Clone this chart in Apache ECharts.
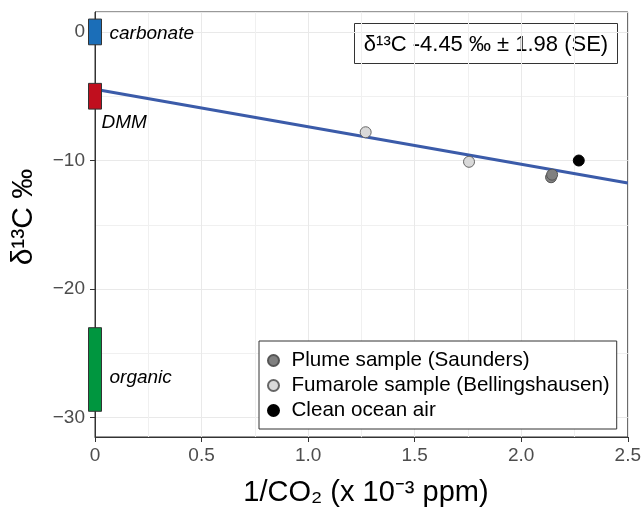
<!DOCTYPE html>
<html>
<head>
<meta charset="utf-8">
<script src="https://cdn.jsdelivr.net/npm/echarts@6/dist/echarts.min.js"></script>
<style>
html, body { margin: 0; padding: 0; background: #fff; }
#chart { width: 644px; height: 509px; }
</style>
</head>
<body>
<div id="chart"></div>
<script>
// end-member source ranges (drawn as boxes at x = 0)
var sourceNames = ['carbonate', 'DMM', 'organic'];
var sourceX = [0, 0, 0];
var sourceLow = [-1, -6, -29.5];
var sourceHigh = [1, -4, -23];
var sourceColors = ['#1B6EB8', '#C00F1E', '#00963F'];

// samples
var plumeX = [2.14, 2.145];
var plumeY = [-11.3, -11.1];
var fumaroleX = [1.27, 1.755];
var fumaroleY = [-7.8, -10.1];
var oceanX = [2.27];
var oceanY = [-10.0];

// fitted line end points
var fitX = [0, 2.5];
var fitY = [-4.45, -11.75];

var xTickLabels = ['0', '0.5', '1.0', '1.5', '2.0', '2.5'];
var yTickValues = [0, -10, -20, -30];
var yTickLabels = ['0', '\u221210', '\u221220', '\u221230'];

var FONT = 'Liberation Sans, Arial, sans-serif';

function pairs(xs, ys) {
    return xs.map(function (x, i) { return [x, ys[i]]; });
}

var sourceData = sourceNames.map(function (n, i) {
    return [sourceX[i], sourceLow[i], sourceHigh[i], i];
});

// label placement for the source boxes (pixels)
var labelShift = {
    carbonate: { dx: 8, dy: 2, below: false },
    DMM: { dx: 13, dy: 14, below: true },
    organic: { dx: 8, dy: 8, below: false }
};

var myChart = echarts.init(document.getElementById('chart'));

var option = {
    animation: false,
    textStyle: { fontFamily: FONT },
    grid: {
        left: 95, right: 13, top: 12, bottom: 72,
        show: true, borderColor: '#333', borderWidth: 1
    },
    xAxis: {
        type: 'value', min: 0, max: 2.5, interval: 0.5,
        axisLine: { show: true, onZero: false, lineStyle: { color: '#333', width: 1 } },
        axisTick: { show: true, length: 5, lineStyle: { color: '#333' } },
        axisLabel: {
            fontSize: 19, color: '#4D4D4D', margin: 9, fontFamily: FONT,
            formatter: function (v) { return xTickLabels[Math.round(v / 0.5)]; }
        },
        splitLine: { lineStyle: { color: '#E9E9E9', width: 1 } },
        minorTick: { show: false, splitNumber: 2 },
        minorSplitLine: { show: true, lineStyle: { color: '#F0F0F0', width: 1 } }
    },
    yAxis: {
        type: 'value', min: -31.5, max: 1.55, splitNumber: 3,
        axisLine: { show: true, onZero: false, lineStyle: { color: '#333', width: 1 } },
        axisTick: { show: true, length: 5, lineStyle: { color: '#333' } },
        axisLabel: {
            fontSize: 19, color: '#4D4D4D', margin: 10, fontFamily: FONT,
            showMinLabel: false, showMaxLabel: false,
            formatter: function (v) {
                var k = yTickValues.indexOf(v);
                return k < 0 ? '' : yTickLabels[k];
            }
        },
        splitLine: { lineStyle: { color: '#E9E9E9', width: 1 } },
        minorTick: { show: false, splitNumber: 2 },
        minorSplitLine: { show: true, lineStyle: { color: '#F0F0F0', width: 1 } }
    },
    legend: {
        data: ['Plume sample (Saunders)', 'Fumarole sample (Bellingshausen)', 'Clean ocean air'],
        orient: 'vertical',
        left: 259, top: 341,
        padding: [9, 7, 8, 8],
        itemGap: 4,
        itemWidth: 26, itemHeight: 11,
        icon: 'circle',
        backgroundColor: '#fff',
        borderColor: '#333', borderWidth: 1, borderRadius: 0,
        selectedMode: false,
        textStyle: { fontSize: 20.6, color: '#000', fontFamily: FONT, lineHeight: 20 }
    },
    graphic: [
        {
            type: 'group', left: 354, top: 23, z: 10,
            children: [
                { type: 'rect', shape: { x: 0, y: 0, width: 263, height: 40 },
                  style: { fill: '#fff', stroke: '#333', lineWidth: 1 } },
                { type: 'text', x: 131.5, y: 21,
                  style: { text: '\u03b4\u00b9\u00b3C -4.45 \u2030 \u00b1 1.98 (SE)', font: '22px ' + FONT,
                           fill: '#000', align: 'center', verticalAlign: 'middle' } }
            ]
        },
        {
            type: 'text', x: 24, y: 217, rotation: Math.PI / 2,
            style: { text: '\u03b4\u00b9\u00b3C \u2030', font: '30px ' + FONT, fill: '#000',
                     align: 'center', verticalAlign: 'middle' }
        },
        {
            type: 'text', x: 366, y: 493,
            style: { text: '1/CO\u2082 (x 10\u207b\u00b3 ppm)', font: '29px ' + FONT, fill: '#000',
                     align: 'center', verticalAlign: 'middle' }
        }
    ],
    series: [
        {
            name: 'sources',
            type: 'custom',
            clip: false,
            z: 5,
            encode: { x: 0, y: [1, 2] },
            data: sourceData,
            renderItem: function (params, api) {
                var i = api.value(3);
                var name = sourceNames[i];
                var top = api.coord([api.value(0), api.value(2)]);
                var bot = api.coord([api.value(0), api.value(1)]);
                var w = 13;
                var s = labelShift[name];
                var ly = s.below ? bot[1] + s.dy : (top[1] + bot[1]) / 2 + s.dy;
                var lx = s.below ? top[0] - w / 2 + s.dx : top[0] + w / 2 + s.dx;
                return {
                    type: 'group',
                    children: [
                        { type: 'rect',
                          shape: { x: top[0] - w / 2, y: top[1], width: w, height: bot[1] - top[1] },
                          style: { fill: sourceColors[i], stroke: '#333', lineWidth: 1 } },
                        { type: 'text', x: lx, y: ly,
                          style: { text: name, font: 'italic 19px ' + FONT, fill: '#000',
                                   align: 'left', verticalAlign: 'middle' } }
                    ]
                };
            }
        },
        {
            name: 'fit',
            type: 'line',
            data: pairs(fitX, fitY),
            showSymbol: false,
            z: 3,
            lineStyle: { color: '#3B5BA9', width: 3 }
        },
        {
            name: 'Plume sample (Saunders)',
            type: 'scatter', z: 4,
            data: pairs(plumeX, plumeY),
            symbolSize: 11,
            itemStyle: { color: '#808080', borderColor: '#555', borderWidth: 1, opacity: 1 }
        },
        {
            name: 'Fumarole sample (Bellingshausen)',
            type: 'scatter', z: 4,
            data: pairs(fumaroleX, fumaroleY),
            symbolSize: 11,
            itemStyle: { color: '#D9D9D9', borderColor: '#666', borderWidth: 1, opacity: 1 }
        },
        {
            name: 'Clean ocean air',
            type: 'scatter', z: 4,
            data: pairs(oceanX, oceanY),
            symbolSize: 11,
            itemStyle: { color: '#000', borderColor: '#000', borderWidth: 1, opacity: 1 }
        }
    ]
};

myChart.setOption(option);
</script>
</body>
</html>
